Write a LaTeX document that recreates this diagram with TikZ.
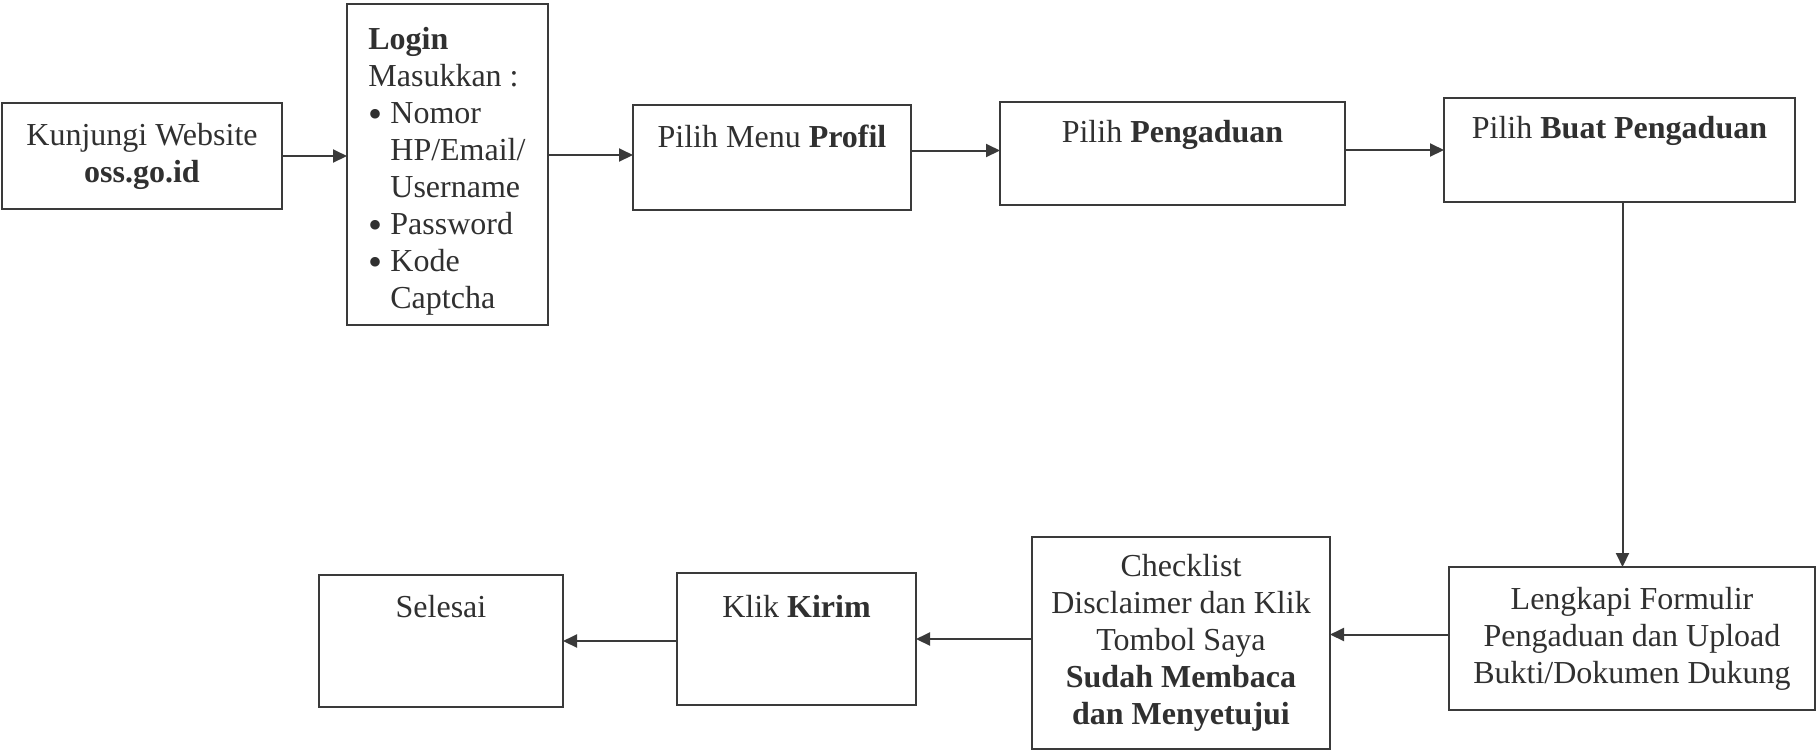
\documentclass[tikz,border=0pt]{standalone}
\usepackage{fontspec}
\setmainfont{Liberation Serif}
\usetikzlibrary{arrows.meta,fit}
\definecolor{inkc}{HTML}{3A3A3A}
\definecolor{txtc}{HTML}{303030}
\newcommand{\bulx}{\makebox[11pt][l]{\smash{\fontsize{20}{18.5}\selectfont\raisebox{-2.2pt}{\textbullet}}}}
\newcommand{\indx}{\hspace*{11pt}}
\begin{document}
\begin{tikzpicture}[x=0.5pt, y=-0.5pt,
  box/.style={draw=inkc, line width=1.3pt, inner sep=0pt, outer sep=0pt},
  txt/.style={text=txtc, font=\fontsize{16}{18.5}\selectfont, align=center, inner sep=0pt},
  arr/.style={draw=inkc, line width=1pt, -{Triangle[length=7pt,width=6.5pt]}}]
\useasboundingbox[fill=white] (0,0) rectangle (1817,752);
% boxes
\node[box, fit={(2,103) (282,209)}] (b1) {};
\node[box, fit={(347,4) (548,325)}] (b2) {};
\node[box, fit={(633,105) (911,210)}] (b3) {};
\node[box, fit={(1000,102) (1345,205)}] (b4) {};
\node[box, fit={(1444,98) (1795,202)}] (b5) {};
\node[box, fit={(1449,567) (1815,710)}] (b6) {};
\node[box, fit={(1032,537) (1330,749)}] (b7) {};
\node[box, fit={(677,573) (916,705)}] (b8) {};
\node[box, fit={(319,575) (563,707)}] (b9) {};
% texts
\node[txt] (t1) at (b1.center) {Kunjungi Website\\\textbf{oss.go.id}};
\node[txt, anchor=base west, align=left] (t2) at (368,308)
  {\textbf{Login}\\Masukkan :\\\bulx Nomor\\\indx HP/Email/\\\indx Username\\\bulx Password\\\bulx Kode\\\indx Captcha};
\node[txt, anchor=base] (t3) at ([yshift=-21pt]b3.north) {Pilih Menu \textbf{Profil}};
\node[txt, anchor=base] (t4) at ([yshift=-20pt]b4.north) {Pilih \textbf{Pengaduan}};
\node[txt, anchor=base] (t5) at ([yshift=-20pt]b5.north) {Pilih \textbf{Buat Pengaduan}};
\node[txt] (t6) at (b6.center) {Lengkapi Formulir\\Pengaduan dan Upload\\Bukti/Dokumen Dukung};
\node[txt] (t7) at (b7.center) {Checklist\\Disclaimer dan Klik\\Tombol Saya\\\textbf{Sudah Membaca}\\\textbf{dan Menyetujui}};
\node[txt, anchor=base] (t8) at ([yshift=-22pt]b8.north) {Klik \textbf{Kirim}};
\node[txt, anchor=base] (t9) at ([yshift=-21pt]b9.north) {Selesai};
% connector levels
\coordinate (a23) at ([yshift=1.25pt]b3.west);
\coordinate (a34) at ([yshift=1.5pt]b4.west);
\coordinate (a56) at ([xshift=1.5pt]b5.south);
\coordinate (a67) at ([yshift=2pt]b6.west);
% connectors
\draw[arr] (b1.east) -- (b1.east -| b2.west);
\draw[arr] (a23 -| b2.east) -- (a23);
\draw[arr] (a34 -| b3.east) -- (a34);
\draw[arr] (b5.west -| b4.east) -- (b5.west);
\draw[arr] (a56) -- (a56 |- b6.north);
\draw[arr] (a67) -- (a67 -| b7.east);
\draw[arr] (b7.west |- b8.east) -- (b8.east);
\draw[arr] (b8.west |- b9.east) -- (b9.east);
\end{tikzpicture}
\end{document}
